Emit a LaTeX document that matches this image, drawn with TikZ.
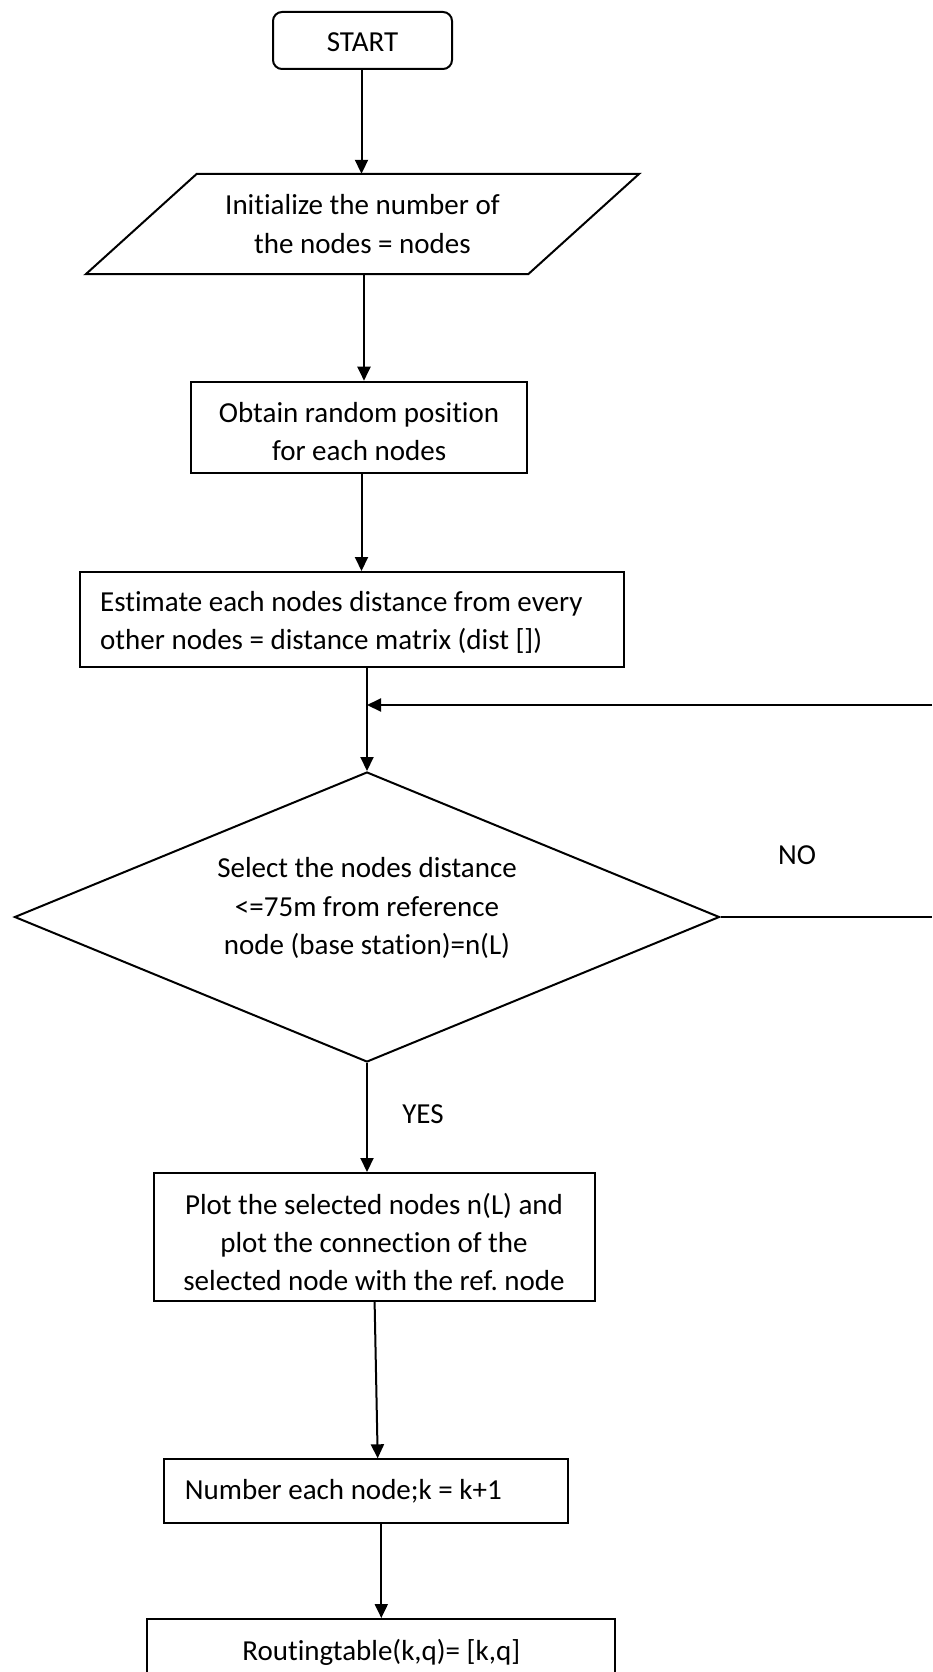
\documentclass[tikz,border=0pt]{standalone}
\usepackage{fontspec}
\setmainfont{Carlito}[Ligatures=NoCommon]
\usetikzlibrary{arrows.meta,shapes.geometric}

\begin{document}
\begin{tikzpicture}[x=1pt,y=-1pt,
  every node/.style={font=\fontsize{29}{38.4}\selectfont\frenchspacing, inner sep=0pt},
  line/.style={line width=2pt},
  arrowline/.style={line, -{Triangle[length=14pt,width=13pt]}},
  procbox/.style={draw, line width=2pt},
  termbox/.style={procbox, rounded corners=9pt},
  decbox/.style={draw, diamond, line width=2pt},
  lbl/.style={align=center},
  lbll/.style={align=flush left, anchor=west}
]
% page frame
\path[use as bounding box, clip] (0,0) rectangle (932,1672);

% start terminal
\node[termbox, minimum width=179pt, minimum height=57pt] (start) at (362.5,40.5) {};
\node (starttext) at ([yshift=-2pt]start.center) {START};

% input parallelogram (text holder + slanted outline)
\node[lbl, minimum width=442pt, minimum height=100pt] (para) at (362.5,224)
  {Initialize the number of\\the nodes = nodes};
\draw[line, line join=miter]
  ([xshift=55.5pt]para.north west) -- ([xshift=55.5pt]para.north east) --
  ([xshift=-55.5pt]para.south east) -- ([xshift=-55.5pt]para.south west) -- cycle;

% process steps
\node[procbox, minimum width=335.4pt, minimum height=91.6pt] (obtain) at (359.1,427.5) {};
\node[lbl] (obtaintext) at ([yshift=-4pt]obtain.center)
  {Obtain random position\\for each nodes};

\node[procbox, minimum width=544pt, minimum height=95pt] (est) at (352,619.5) {};
\node[lbll] (esttext) at ([xshift=21pt,yshift=-3pt]est.west)
  {Estimate each nodes distance from every\\other nodes = distance matrix (dist [])};

% decision
\node[decbox, minimum width=705pt, minimum height=290pt] (dec) at (367,917) {};
\node[lbl] (dectext) at ([yshift=8.7pt]dec.center)
  {Select the nodes distance\\<=75m from reference\\node (base station)=n(L)};

\node[procbox, minimum width=441pt, minimum height=128pt] (plot) at (374,1237) {};
\node[lbl] (plottext) at ([yshift=-5pt]plot.center)
  {Plot the selected nodes n(L) and\\plot the connection of the\\selected node with the ref. node};

\node[procbox, minimum width=404pt, minimum height=64pt] (num) at (365.7,1491.3) {};
\node[lbll] (numtext) at ([xshift=22pt]num.west) {Number each node;k = k+1};

\node[procbox, minimum width=468pt, minimum height=66pt] (rout) at (381.3,1652)
  {Routingtable(k,q)= [k,q]};

% branch labels
\node (no) at (797,855) {NO};
\node (yes) at (423,1114) {YES};

% loop-back end points on the right margin
\coordinate (fbR) at (932,705);
\coordinate (noR) at (932,917);

% connectors
\draw[arrowline] ([xshift=-1pt]start.south) -- ([xshift=-1pt]start.south |- para.north);
\draw[arrowline] ([xshift=1.5pt]para.south) -- ([xshift=1.5pt]para.south |- obtain.north);
\draw[arrowline] ([xshift=2.4pt]obtain.south) -- ([xshift=2.4pt]obtain.south |- est.north);
\draw[arrowline] (est.south -| dec.north) -- (dec.north);
\draw[arrowline] (fbR) -- (fbR -| dec.north);
\draw[line] (dec.east) -- (noR);
\draw[arrowline] (dec.south) -- (dec.south |- plot.north);
\draw[arrowline] ([xshift=0.6pt]plot.south) -- ([xshift=12pt]num.north);
\draw[arrowline] (rout.north |- num.south) -- (rout.north);
\end{tikzpicture}
\end{document}
